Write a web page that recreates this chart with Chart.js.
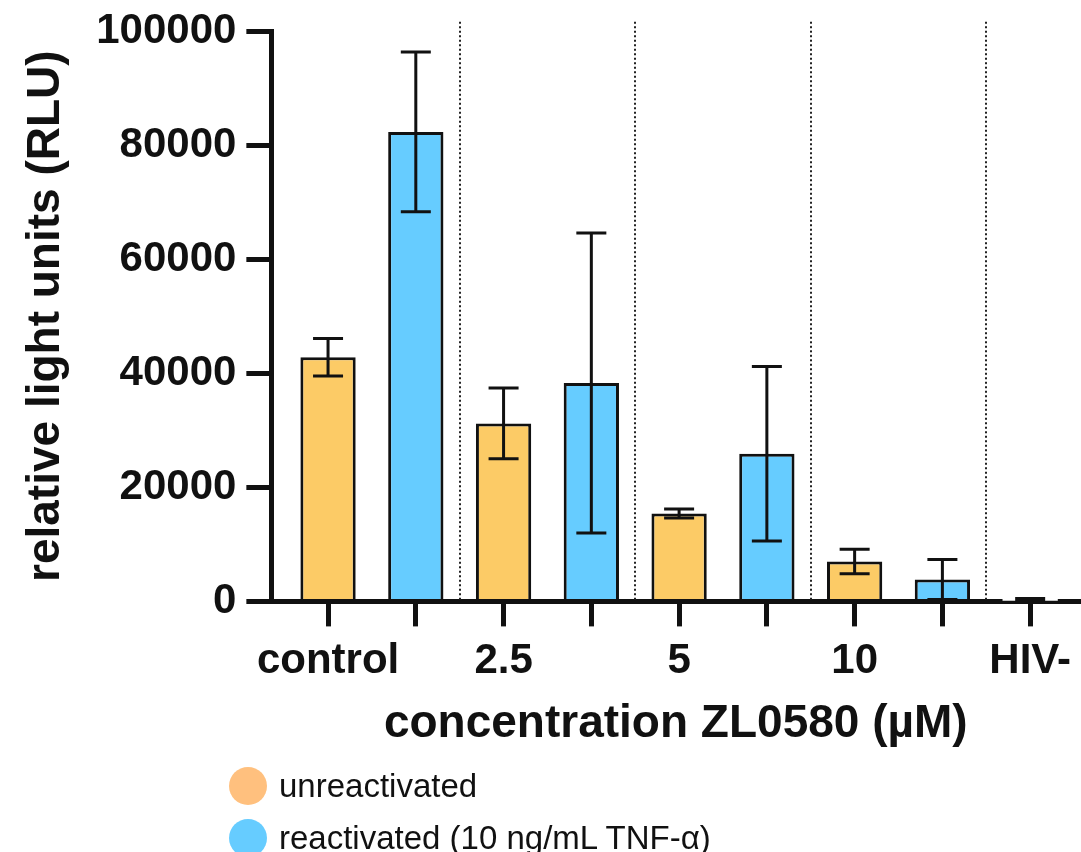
<!DOCTYPE html>
<html>
<head>
<meta charset="utf-8">
<script src="https://cdn.jsdelivr.net/npm/chart.js@4"></script>
<style>
  html, body { margin: 0; padding: 0; background: #fff; }
  #wrap { position: relative; width: 1081px; height: 852px; overflow: hidden; }
  #legend { position: absolute; left: 229px; top: 760px; font-family: "Liberation Sans", Arial, sans-serif; font-size: 33px; color: #111; }
  .item { display: flex; align-items: center; height: 52px; }
  .dot { width: 38px; height: 38px; border-radius: 50%; margin-right: 12px; }
</style>
</head>
<body>
<div id="wrap">
  <canvas id="chart" width="1081" height="852"></canvas>
  <div id="legend"></div>
</div>
<script>
const tickLabels = ["control", "", "2.5", "", "5", "", "10", "", "HIV-"];
const unreactX = [0, 2, 4, 6];
const unreactMeans = [42800, 31200, 15400, 7000];
const unreactErr = [3300, 6200, 800, 2150];
const reactX = [1, 3, 5, 7];
const reactMeans = [82300, 38300, 25900, 3850];
const reactErr = [14000, 26300, 15300, 3500];
const hivX = [8];
const hivMeans = [100];
const hivErr = [400];
const separators = [1.5, 3.5, 5.5, 7.5];
const yTicks = [0, 20000, 40000, 60000, 80000, 100000];

const font = "'Liberation Sans', Arial, sans-serif";
const orange = "#fccb66";
const blue = "#66ccff";
const legendColors = ["#ffc07e", "#66ccff"];

function pts(xs, ys) { return xs.map((x, i) => ({ x: x, y: ys[i] })); }

const errorBars = {
  id: "errorBars",
  afterDatasetsDraw(chart) {
    const { ctx, scales: { x, y } } = chart;
    const groups = [[unreactX, unreactMeans, unreactErr], [reactX, reactMeans, reactErr], [hivX, hivMeans, hivErr]];
    ctx.save();
    ctx.strokeStyle = "#111";
    ctx.lineWidth = 3;
    groups.forEach(([xs, ms, es]) => {
      xs.forEach((v, i) => {
        const px = x.getPixelForValue(v);
        const hi = y.getPixelForValue(ms[i] + es[i]);
        const lo = y.getPixelForValue(Math.max(0, ms[i] - es[i]));
        ctx.beginPath();
        ctx.moveTo(px, hi); ctx.lineTo(px, lo);
        ctx.moveTo(px - 15, hi); ctx.lineTo(px + 15, hi);
        ctx.moveTo(px - 15, lo); ctx.lineTo(px + 15, lo);
        ctx.stroke();
      });
    });
    ctx.restore();
  }
};

const dividers = {
  id: "dividers",
  beforeDatasetsDraw(chart) {
    const { ctx, scales: { x, y } } = chart;
    ctx.save();
    ctx.strokeStyle = "#222";
    ctx.lineWidth = 2;
    ctx.setLineDash([2, 2.5]);
    separators.forEach(s => {
      const px = Math.round(x.getPixelForValue(s));
      ctx.beginPath();
      ctx.moveTo(px, y.getPixelForValue(101600));
      ctx.lineTo(px, y.getPixelForValue(0));
      ctx.stroke();
    });
    ctx.restore();
  }
};

const chart = new Chart(document.getElementById("chart"), {
  type: "bar",
  data: {
    datasets: [{
      label: "unreactivated",
      data: pts(unreactX, unreactMeans),
      backgroundColor: orange,
      borderColor: "#111",
      borderWidth: 3
    }, {
      label: "reactivated (10 ng/mL TNF-α)",
      data: pts(reactX, reactMeans),
      backgroundColor: blue,
      borderColor: "#111",
      borderWidth: 3
    }, {
      label: "HIV-",
      data: pts(hivX, hivMeans),
      backgroundColor: "#fff",
      borderColor: "#111",
      borderWidth: 0
    }]
  },
  options: {
    responsive: false,
    animation: false,
    grouped: false,
    categoryPercentage: 1,
    barPercentage: 0.63,
    layout: { padding: { top: 2, left: 15, right: 0, bottom: 96 } },
    plugins: { legend: { display: false }, tooltip: { enabled: false } },
    scales: {
      x: {
        type: "linear",
        offset: false,
        min: -0.646,
        max: 8.57,
        afterBuildTicks: s => { s.ticks = tickLabels.map((t, i) => ({ value: i })); },
        grid: { offset: false, drawOnChartArea: false, color: "#111", lineWidth: 5, tickLength: 25, tickWidth: 5 },
        border: { color: "#111", width: 5 },
        ticks: {
          autoSkip: false, maxRotation: 0, padding: 10, color: "#111",
          font: { family: font, size: 42, weight: "bold" },
          callback: v => tickLabels[v]
        },
        title: {
          display: true, text: "concentration ZL0580 (µM)", color: "#111",
          font: { family: font, size: 46, weight: "bold" }, padding: { top: 0 }
        }
      },
      y: {
        min: 0,
        max: 100000,
        afterBuildTicks: s => { s.ticks = yTicks.map(v => ({ value: v })); },
        grid: { drawOnChartArea: false, color: "#111", lineWidth: 5, tickLength: 25, tickWidth: 5 },
        border: { color: "#111", width: 5 },
        ticks: {
          padding: 10, color: "#111",
          font: { family: font, size: 42, weight: "bold", lineHeight: 1 },
          callback: v => String(v)
        },
        title: {
          display: true, text: "relative light units (RLU)", color: "#111",
          font: { family: font, size: 46, weight: "bold" }, padding: { bottom: 12 }
        }
      }
    }
  },
  plugins: [dividers, errorBars]
});

const legend = document.getElementById("legend");
chart.data.datasets.slice(0, 2).forEach((ds, i) => {
  const row = document.createElement("div");
  row.className = "item";
  const dot = document.createElement("span");
  dot.className = "dot";
  dot.style.background = legendColors[i];
  const txt = document.createElement("span");
  txt.textContent = ds.label;
  row.appendChild(dot);
  row.appendChild(txt);
  legend.appendChild(row);
});
</script>
</body>
</html>
